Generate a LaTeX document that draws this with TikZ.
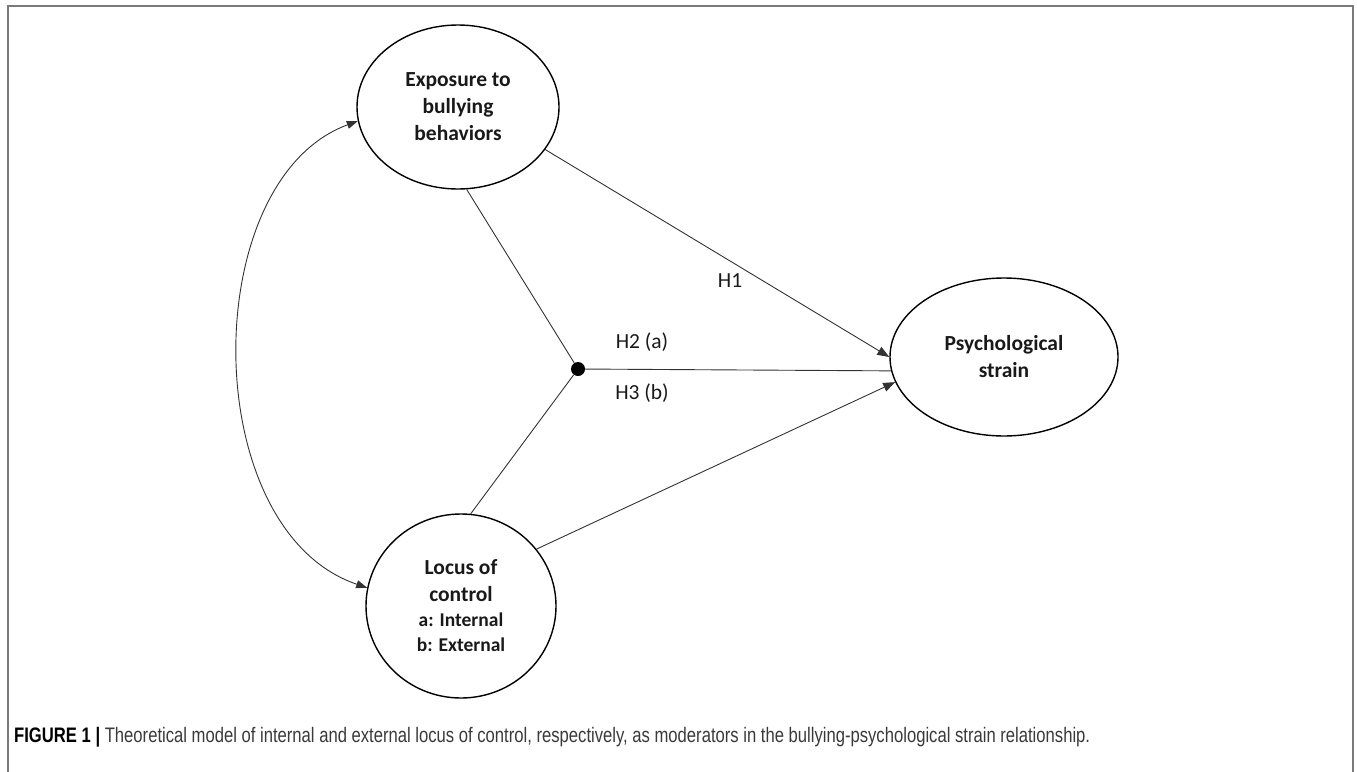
\documentclass[tikz,border=0pt]{standalone}
\usepackage{fontspec}
\usepackage{graphicx}
\setmainfont{Carlito}
\newfontfamily\capfont{Liberation Sans}
\usetikzlibrary{arrows.meta,shapes.geometric}
\definecolor{framegray}{HTML}{7A7A7A}
\definecolor{linegray}{HTML}{333333}
\definecolor{captext}{HTML}{3A3A3A}
\begin{document}
\begin{tikzpicture}[x=1pt,y=-1pt,
  latent/.style={draw=black, line width=1.4pt, ellipse, inner sep=0pt, align=center,
    font=\fontsize{21.5}{27}\selectfont\bfseries, text=black!90},
  conn/.style={draw=linegray, line width=0.9pt},
  tip/.style={-{Triangle[length=12pt,width=9pt]}},
  hlabel/.style={font=\fontsize{21.5}{26}\selectfont, text=black!90, inner sep=0pt}]
\useasboundingbox (0,0) rectangle (1357,771);
\draw[framegray, line width=1.6pt] (8,6) rectangle (1353,800);

\node[latent, minimum width=202pt, minimum height=164pt] (exp) at (458,107)
  {Exposure to\\bullying\\behaviors};
\node[latent, minimum width=228pt, minimum height=158pt] (psy) at (1004,357)
  {Psychological\\strain};
\node[latent, minimum width=190pt, minimum height=184pt] (loc) at (461,606)
  {Locus of\\control\\[-2pt]{\fontsize{19.5}{25}\selectfont a: Internal}\\[-2pt]{\fontsize{19.5}{25}\selectfont b: External}};
\node[circle, fill=black, inner sep=0pt, minimum size=14pt] (dot) at (578,369) {};

\draw[conn] (exp.-84) -- (dot);
\draw[conn] (loc.84) -- (dot);
\draw[conn] (dot) -- (psy.187);
\draw[conn, tip] (exp.-26) -- (psy.180);
\draw[conn, tip] (loc.37) -- (psy.193);
\draw[conn, {Triangle[length=11pt,width=8pt]}-{Triangle[length=11pt,width=8pt]}]
  (exp.188) .. controls (197,180) and (197,530) .. (loc.169);

\node[hlabel] (h1) at (730,281) {H1};
\node[hlabel] (h2) at (642,342) {H2 (a)};
\node[hlabel] (h3) at (642,393) {H3 (b)};

\node[anchor=west, inner sep=0pt, text=captext] (cap) at (14,737)
  {\resizebox{1076pt}{\height}{\capfont\fontsize{21}{24}\selectfont\textcolor{black}{\textbf{FIGURE 1 |}} Theoretical model of internal and external locus of control, respectively, as moderators in the bullying-psychological strain relationship.}};
\end{tikzpicture}
\end{document}
